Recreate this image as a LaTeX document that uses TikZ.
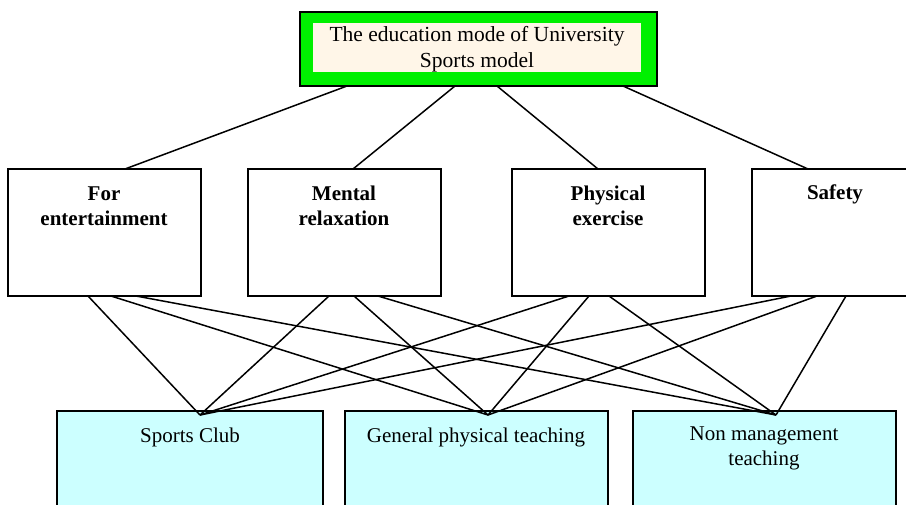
\documentclass[tikz,border=0pt]{standalone}
\usepackage{fontspec}
\setmainfont{Liberation Serif}
\usetikzlibrary{calc}
\definecolor{topgreen}{RGB}{0,240,0}
\definecolor{cream}{RGB}{255,246,232}
\definecolor{lightcyan}{RGB}{204,255,255}
\tikzset{
  boxbase/.style={rectangle,inner sep=0pt,outer sep=0pt,anchor=north west},
  midbox/.style={boxbase,draw=black,line width=1.6pt,fill=white,minimum width=193pt,minimum height=127pt},
  botbox/.style={boxbase,draw=black,line width=1.6pt,fill=lightcyan,minimum height=120pt},
  midtext/.style={font=\fontsize{21}{25}\selectfont\bfseries,align=center,anchor=center,inner sep=0pt},
  bottext/.style={font=\fontsize{21}{25}\selectfont,align=center,anchor=center,inner sep=0pt},
  conn/.style={draw=black,line width=1.5pt}
}
\begin{document}
\begin{tikzpicture}[x=1pt,y=-1pt]
\useasboundingbox (0,0) rectangle (906,504);
\clip (0,0) rectangle (906,504);
% top box
\node[boxbase,draw=black,line width=1.3pt,fill=topgreen,minimum width=357pt,minimum height=74pt] (top) at (300,12) {};
\node[boxbase,fill=cream,minimum width=328pt,minimum height=49pt] (topin) at (313,23) {};
\node[bottext,font=\fontsize{21.5}{26}\selectfont] (toptext) at (477,49) {The education mode of University\\Sports model};
% middle boxes
\node[midbox] (m1) at (8,169) {};
\node[midbox] (m2) at (248,169) {};
\node[midbox] (m3) at (512,169) {};
\node[midbox,minimum width=166pt] (m4) at (752,169) {};
\node[midtext] (m1t) at (104,206) {For\\entertainment};
\node[midtext] (m2t) at (344,206) {Mental\\relaxation};
\node[midtext] (m3t) at (608,206) {Physical\\exercise};
\node[midtext] (m4t) at (835,194) {Safety};
% bottom boxes
\node[botbox,minimum width=266pt] (b1) at (57,411) {};
\node[botbox,minimum width=263pt] (b2) at (345,411) {};
\node[botbox,minimum width=263pt] (b3) at (633,411) {};
\node[bottext] (b1t) at (190,437) {Sports Club};
\node[bottext] (b2t) at (476,437) {General physical teaching};
\node[bottext] (b3t) at (764,448) {Non management\\teaching};
% end points on bottom boxes
\coordinate (e1) at ([xshift=143pt,yshift=-4pt]b1.north west);
\coordinate (e2) at ([xshift=143pt,yshift=-4pt]b2.north west);
\coordinate (e3) at ([xshift=143pt,yshift=-4pt]b3.north west);
% top connectors
\draw[conn] ([xshift=47pt]top.south west) -- ([xshift=117pt]m1.north west);
\draw[conn] ([xshift=155pt]top.south west) -- ([xshift=105pt]m2.north west);
\draw[conn] ([xshift=197pt]top.south west) -- ([xshift=86pt]m3.north west);
\draw[conn] ([xshift=323pt]top.south west) -- ([xshift=56pt]m4.north west);
% bottom connectors
\draw[conn] ([xshift=80pt]m1.south west) -- (e1);
\draw[conn] ([xshift=103pt]m1.south west) -- (e2);
\draw[conn] ([xshift=128pt]m1.south west) -- (e3);
\draw[conn] ([xshift=81pt]m2.south west) -- (e1);
\draw[conn] ([xshift=106pt]m2.south west) -- (e2);
\draw[conn] ([xshift=130pt]m2.south west) -- (e3);
\draw[conn] ([xshift=57pt]m3.south west) -- (e1);
\draw[conn] ([xshift=77pt]m3.south west) -- (e2);
\draw[conn] ([xshift=97pt]m3.south west) -- (e3);
\draw[conn] ([xshift=39pt]m4.south west) -- (e1);
\draw[conn] ([xshift=65pt]m4.south west) -- (e2);
\draw[conn] ([xshift=94pt]m4.south west) -- (e3);
\end{tikzpicture}
\end{document}
